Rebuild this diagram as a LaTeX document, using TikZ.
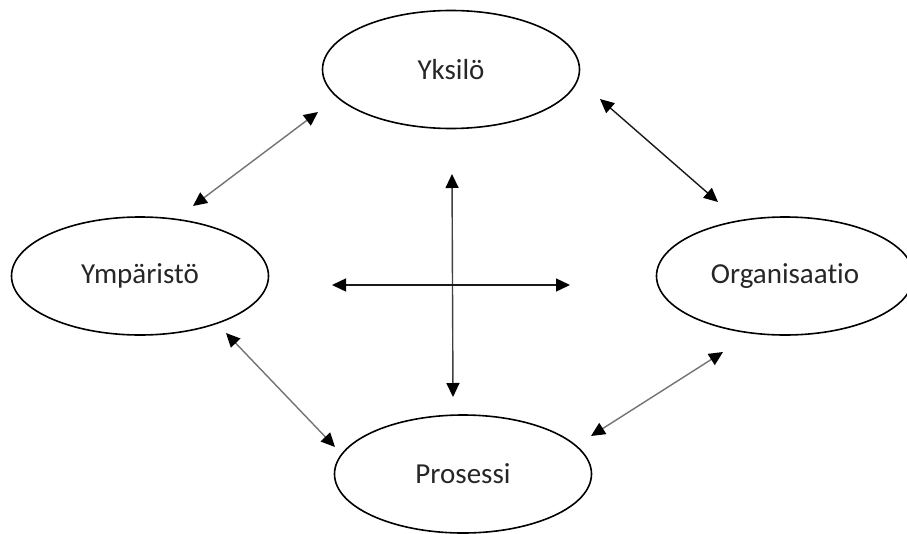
\documentclass[tikz,border=0pt]{standalone}
\usepackage{fontspec}
\setmainfont[Ligatures={NoCommon}]{Carlito}
\usetikzlibrary{shapes.geometric,arrows.meta}
\begin{document}
\begin{tikzpicture}[x=1pt,y=-1pt,
  bubble/.style={draw=black,ellipse,line width=1.6pt,minimum width=257pt,minimum height=118pt,inner sep=0pt,
     font=\fontsize{29pt}{34pt}\selectfont,text=black!85},
  link/.style={line width=1.4pt,{Triangle[length=14pt,width=13pt,color=black]}-{Triangle[length=14pt,width=13pt,color=black]}},
  greylink/.style={link,draw=black!55},
  darklink/.style={link,draw=black!90}]
\useasboundingbox (0,0) rectangle (907,533);
\node[bubble] (yk) at (451,69.5) {Yksilö};
\node[bubble] (ym) at (140,276) {Ympäristö};
\node[bubble] (or) at (785,276) {Organisaatio};
\node[bubble] (pr) at (463,474) {Prosessi};
% arrow end points
\coordinate (a1) at (318,112); \coordinate (a2) at (193,206);
\coordinate (b1) at (600,99);  \coordinate (b2) at (718,202);
\coordinate (c1) at (226,333); \coordinate (c2) at (335,447);
\coordinate (d1) at (723,352); \coordinate (d2) at (591,436);
\coordinate (v1) at (452,174); \coordinate (v2) at (453,397);
\coordinate (h1) at (332,285); \coordinate (h2) at (570,285);
\draw[greylink] (a2) -- (a1);
\draw[darklink] (b1) -- (b2);
\draw[greylink] (c1) -- (c2);
\draw[greylink] (d2) -- (d1);
\draw[link,draw=black!75] (v1) -- (v2);
\draw[darklink] (h1) -- (h2);
\end{tikzpicture}
\end{document}
